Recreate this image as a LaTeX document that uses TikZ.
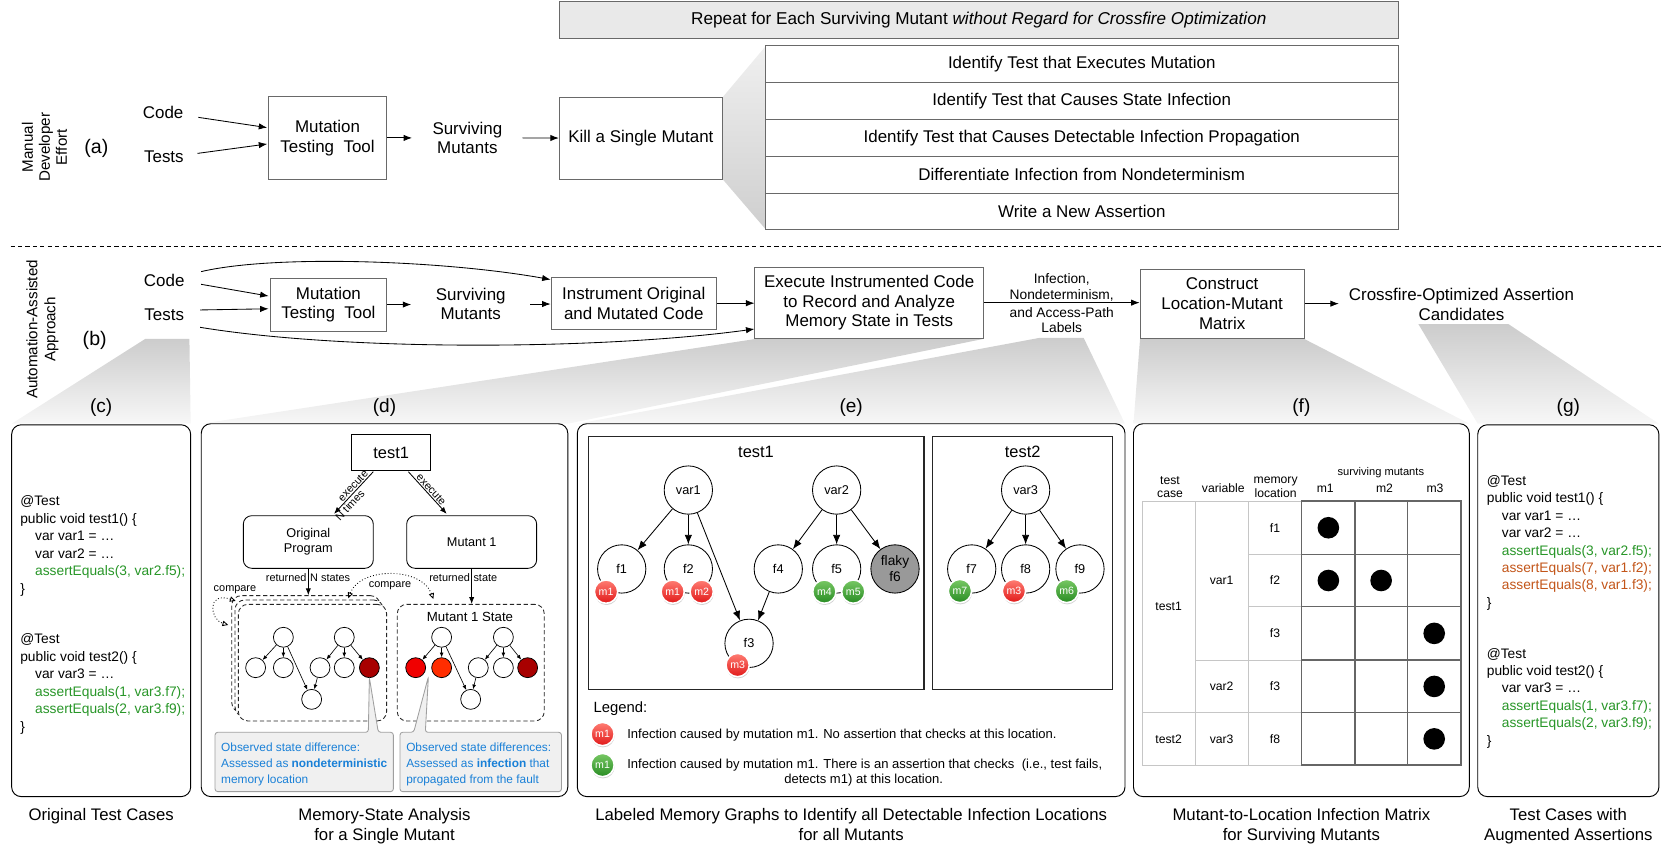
\documentclass[tikz,border=0pt]{standalone}
\usepackage{fontspec}
\setmainfont{Liberation Sans}
\usetikzlibrary{arrows.meta,shadows,calc}
\newcommand{\fz}[2]{\fontsize{#1}{#2}\selectfont}
\newcommand{\codeln}[5]{\node[code, text=#4] (#1) at (#2,#3) {#5};}
\newcommand{\callln}[4]{\node[callt] (#1) at (#2,#3) {#4};}
\definecolor{cgreen}{RGB}{40,150,40}
\definecolor{corange}{RGB}{195,85,25}
\definecolor{cblue}{RGB}{25,128,215}
\definecolor{dred}{RGB}{168,0,0}
\definecolor{bred}{RGB}{240,0,0}
\definecolor{ored}{RGB}{255,45,0}
\definecolor{edgegray}{RGB}{105,105,105}
\definecolor{rtop}{RGB}{255,125,115}
\definecolor{rbot}{RGB}{225,25,25}
\definecolor{gtop}{RGB}{120,200,100}
\definecolor{gbot}{RGB}{40,140,35}
\begin{document}
\begin{tikzpicture}[x=1pt, y=-1pt,
 lbl/.style={font=\fz{16}{18.5}, align=center, inner sep=0pt},
 pbox/.style={draw=edgegray, line width=0.8pt, fill=white, font=\fz{16}{18.5}, align=center, inner sep=0pt},
 arr/.style={-{Latex[length=8pt,width=6pt]}, line width=0.8pt},
 arrs/.style={-{Latex[length=6.5pt,width=5pt]}, line width=0.8pt},
 sarr/.style={-{Latex[length=4.5pt,width=3.6pt]}, line width=0.6pt},
 earr/.style={-{Latex[length=9pt,width=7pt]}, line width=0.8pt},
 panel/.style={draw=black, line width=0.9pt, rounded corners=9pt, fill=white},
 funnel/.style={top color=gray!40, bottom color=gray!6, draw=none},
 plabel/.style={font=\fz{18}{20}, inner sep=0pt},
 capt/.style={font=\fz{15.8}{18.5}, align=center, anchor=north, inner sep=0pt},
 code/.style={font=\fz{13}{15}, anchor=base west, inner sep=0pt},
 callt/.style={font=\fz{11.2}{13}, anchor=base west, inner sep=0pt, text=cblue},
 cout/.style={fill=gray!12, draw=gray!75, line width=0.8pt, rounded corners=2.5pt},
 dstate/.style={draw=black!85, dash pattern=on 4pt off 2.5pt, line width=0.8pt, rounded corners=9pt, fill=white, minimum width=140pt, minimum height=110.1pt, inner sep=0pt},
 sg/.style={circle, draw=black, line width=0.7pt, fill=white, minimum size=18.8pt, inner sep=0pt},
 cmp/.style={dotted, line width=0.8pt, {Triangle[open,length=5.5pt,width=5pt]}-{Triangle[open,length=5.5pt,width=5pt]}},
 enode/.style={circle, draw=black, line width=0.8pt, fill=white, minimum size=45.6pt, inner sep=0pt, font=\fz{12}{13}, align=center},
 badge/.style={circle, minimum size=22pt, inner sep=0pt, draw=white, line width=1.5pt, font=\fz{10}{11}, text=white, drop shadow={opacity=0.35, shadow xshift=0.4pt, shadow yshift=-1.6pt}},
 rbadge/.style={badge, top color=rtop, bottom color=rbot},
 gbadge/.style={badge, top color=gtop, bottom color=gbot},
 tf/.style={font=\fz{11.5}{12.5}, align=center, inner sep=0pt},
 mdot/.style={circle, fill=black, minimum size=20.4pt, inner sep=0pt},
 lgrid/.style={draw=gray!45, line width=0.8pt},
 dgrid/.style={draw=gray!80!black, line width=1.2pt},
 exl/.style={font=\fz{10.3}{11}, inner sep=1pt}
]
\useasboundingbox (0,0) rectangle (1568,800);

% ---------------- (a) ----------------
\shade[top color=gray!12, bottom color=gray!38] (682,92) -- (722.4,44) -- (722.4,216) -- (682,169) -- cycle;
\node[pbox, fill=gray!17, minimum width=792pt, minimum height=34.6pt, font=\fz{16.2}{18}] (banner) at (924,18.9) {Repeat for Each Surviving Mutant \textit{without Regard for Crossfire Optimization}};
\node[rotate=90, font=\fz{14.3}{16}, align=center, inner sep=0pt] (manual) at (42,139) {Manual\\Developer\\Effort};
\node[font=\fz{18.5}{20}, inner sep=0pt] (la) at (91,140) {(a)};
\node[lbl] (code1) at (154,106.4) {Code};
\node[lbl] (tests1) at (154.7,147.9) {Tests};
\node[pbox, minimum width=111.4pt, minimum height=77.7pt] (mtt1) at (309.2,130.2) {Mutation\\Testing\ \ Tool};
\node[lbl, minimum width=104pt] (sm1) at (441.2,130.2) {Surviving\\Mutants};
\node[pbox, minimum width=154.1pt, minimum height=77.4pt] (kill) at (605,130.3) {Kill a Single Mutant};
\foreach \txt [count=\i] in {Identify Test that Executes Mutation, Identify Test that Causes State Infection, Identify Test that Causes Detectable Infection Propagation, Differentiate Infection from Nondeterminism, Write a New Assertion}
  \node[pbox, minimum width=597.6pt, minimum height=34.8pt] (st\i) at (1021.2,{43+34.8*(\i-0.5)}) {\txt};
\draw[arr] ($(code1.east)+(14,4.4)$) -- ($(mtt1.west)+(-0.8,-9.7)$);
\draw[arr] ($(tests1.east)+(12.9,-3.1)$) -- ($(mtt1.west)+(-0.8,5.7)$);
\draw[arr] (mtt1.east) -- (sm1.west);
\draw[arr] (sm1.east) -- (kill.west);

\coordinate (dl1) at (10,233);
\coordinate (dl2) at (1568,233);
\draw[dash pattern=on 4pt off 3pt, line width=0.7pt] (dl1) -- (dl2);

% ---------------- funnels ----------------
\shade[funnel] (137,320) -- (178.8,320) -- (180,400) -- (11,400) -- cycle;
\shade[funnel] (713,320) -- (928,320) -- (536,400) -- (190,400) -- cycle;
\shade[funnel] (981,319) -- (1023,319) -- (1062,400) -- (545,400) -- cycle;
\shade[funnel] (1076.2,320) -- (1231.3,320) -- (1387,400) -- (1070,400) -- cycle;
\shade[funnel] (1339,306) -- (1424,306) -- (1566,400) -- (1395,400) -- cycle;

% ---------------- (b) ----------------
\node[rotate=90, font=\fz{14.3}{17}, align=center, inner sep=0pt] (auto) at (40,311) {Automation-Assisted\\Approach};
\node[font=\fz{18.5}{20}, inner sep=0pt] (lb) at (89.4,321) {(b)};
\node[lbl] (code2) at (155,264.3) {Code};
\node[lbl] (tests2) at (155,297.4) {Tests};
\node[pbox, minimum width=110pt, minimum height=50pt] (mtt2) at (310,287.5) {Mutation\\Testing\ \ Tool};
\node[lbl, minimum width=112pt] (sm2) at (444.4,287) {Surviving\\Mutants};
\node[pbox, minimum width=156.1pt, minimum height=48.8pt] (inst) at (598.25,286.2) {Instrument Original\\and Mutated Code};
\node[pbox, minimum width=215.9pt, minimum height=67.4pt] (exec) at (820.55,285.7) {Execute Instrumented Code\\to Record and Analyze\\Memory State in Tests};
\node[pbox, minimum width=155.1pt, minimum height=65.5pt] (cons) at (1153.75,286.65) {Construct\\Location-Mutant\\Matrix};
\node[lbl, minimum width=231pt] (cand) at (1379.6,287.6) {Crossfire-Optimized Assertion\\Candidates};
\node[font=\fz{13}{14.5}, align=center, inner sep=0pt] (lab1) at (1002.3,271.4) {Infection,\\Nondeterminism,};
\node[font=\fz{13}{14.5}, align=center, inner sep=0pt] (lab2) at (1002.3,302.2) {and Access-Path\\Labels};
\draw[arr] ($(code2.east)+(15.6,-7.9)$) .. controls (260,240) and (420,246) .. ($(inst.north west)+(0,2.5)$);
\draw[arr] ($(tests2.east)+(15.1,11.6)$) .. controls (330,332) and (570,330) .. ($(exec.west)+(0,24.9)$);
\draw[arr] ($(code2.east)+(15.6,4.1)$) -- ($(mtt2.west)+(-1,-8)$);
\draw[arr] ($(tests2.east)+(15.1,-4.8)$) -- ($(mtt2.west)+(-1,4)$);
\draw[arr] (mtt2.east) -- (mtt2.east -| sm2.west);
\draw[arr] (sm2.east) -- (sm2.east -| inst.west);
\draw[arr] (inst.east) -- (inst.east -| exec.west);
\draw[arr] (exec.east) -- (exec.east -| cons.west);
\draw[arr] (cons.east) -- (cons.east -| cand.west);

% ---------------- panels ----------------
\draw[panel] (11,401) rectangle (180,752);
\draw[panel] (190,400) rectangle (536,752);
\draw[panel] (545,400) rectangle (1062,752);
\draw[panel] (1070,400) rectangle (1387,752);
\draw[panel] (1395,401) rectangle (1566,752);
\node[plabel] (lc) at (95.5,385) {(c)};
\node[plabel] (ld) at (363,385) {(d)};
\node[plabel] (le) at (803.5,385) {(e)};
\node[plabel] (lf) at (1228.5,385) {(f)};
\node[plabel] (lg) at (1480.5,385) {(g)};
\node[capt] (capc) at (95.5,763) {Original Test Cases};
\node[capt] (capd) at (363,763) {Memory-State Analysis\\for a Single Mutant};
\node[capt] (cape) at (803.5,763) {Labeled Memory Graphs to Identify all Detectable Infection Locations\\for all Mutants};
\node[capt] (capf) at (1228.5,763) {Mutant-to-Location Infection Matrix\\for Surviving Mutants};
\node[capt] (capg) at (1480.5,763) {Test Cases with\\Augmented Assertions};

% ---------------- (c) ----------------
\codeln{c1}{19}{477.6}{black}{@Test}
\codeln{c2}{19}{494.1}{black}{public void test1() \{}
\codeln{c3}{33}{510.6}{black}{var var1 = …}
\codeln{c4}{33}{527.1}{black}{var var2 = …}
\codeln{c5}{33}{543.6}{cgreen}{assertEquals(3, var2.f5);}
\codeln{c6}{19}{560.1}{black}{\}}
\codeln{c7}{19}{607.6}{black}{@Test}
\codeln{c8}{19}{624.1}{black}{public void test2() \{}
\codeln{c9}{33}{640.6}{black}{var var3 = …}
\codeln{c10}{33}{657.1}{cgreen}{assertEquals(1, var3.f7);}
\codeln{c11}{33}{673.6}{cgreen}{assertEquals(2, var3.f9);}
\codeln{c12}{19}{690.1}{black}{\}}

% ---------------- (g) ----------------
\codeln{g1}{1403.4}{458.4}{black}{@Test}
\codeln{g2}{1403.4}{474.8}{black}{public void test1() \{}
\codeln{g3}{1417.6}{491.2}{black}{var var1 = …}
\codeln{g4}{1417.6}{507.6}{black}{var var2 = …}
\codeln{g5}{1417.6}{524.0}{cgreen}{assertEquals(3, var2.f5);}
\codeln{g6}{1417.6}{540.4}{corange}{assertEquals(7, var1.f2);}
\codeln{g7}{1417.6}{556.8}{corange}{assertEquals(8, var1.f3);}
\codeln{g8}{1403.4}{573.2}{black}{\}}
\codeln{g9}{1403.4}{621.3}{black}{@Test}
\codeln{g10}{1403.4}{637.7}{black}{public void test2() \{}
\codeln{g11}{1417.6}{654.1}{black}{var var3 = …}
\codeln{g12}{1417.6}{670.5}{cgreen}{assertEquals(1, var3.f7);}
\codeln{g13}{1417.6}{686.9}{cgreen}{assertEquals(2, var3.f9);}
\codeln{g14}{1403.4}{703.3}{black}{\}}

% ---------------- (d) ----------------
\node[font=\fz{15.5}{17}, inner sep=0pt] (dtest) at (369.25,427.3) {test1};
\draw[line width=0.9pt] ($(dtest.center)+(-37.25,-17.3)$) rectangle ($(dtest.center)+(37.25,17.3)$);
\node[draw=black, line width=0.8pt, rounded corners=8pt, minimum width=122.7pt, minimum height=49.7pt, font=\fz{12}{14}, align=center, inner sep=0pt] (dorig) at (291.05,511.65) {Original\\Program};
\node[draw=black, line width=0.8pt, rounded corners=8pt, minimum width=122.7pt, minimum height=49.7pt, font=\fz{12}{14}, align=center, inner sep=0pt] (dmut) at (445.25,511.65) {Mutant 1};
\draw[arrs] ($(dtest.center)+(-16.85,18)$) -- node[pos=0.42, sloped, above, exl] (ex1) {execute} node[pos=0.7, sloped, below, exl] (ex2) {N times} ($(dorig.north)+(24.25,-1.3)$);
\draw[arrs] ($(dtest.center)+(16.25,18)$) -- node[pos=0.5, sloped, above, exl] (ex3) {execute} ($(dmut.north)+(-23.55,-1.3)$);
\node[dstate] (st3) at (288.8,617.35) {};
\node[dstate] (st2) at (291.9,621.45) {};
\node[dstate] (sf1) at (295,625.55) {};
\node[dstate, minimum width=138.8pt] (mst) at (444.4,625.55) {};
\node[font=\fz{12.5}{14}, inner sep=0pt] (mstt) at (443.7,582.2) {Mutant 1 State};
\draw[arrs] (dorig.south) -- (dorig.south |- st3.north);
\draw[arrs] (dmut.south) -- (dmut.south |- mst.north);
\node[font=\fz{10.3}{12}, anchor=east, inner sep=0pt] (rt1) at (289.6,545.3) {returned};
\node[font=\fz{10.3}{12}, anchor=west, inner sep=0pt] (rt2) at (292.6,545.3) {N states};
\node[font=\fz{10.3}{12}, anchor=east, inner sep=0pt] (rt3) at (443.8,545.3) {returned};
\node[font=\fz{10.3}{12}, anchor=west, inner sep=0pt] (rt4) at (446.8,545.3) {state};
% small graphs
\node[sg] (ga) at (267.5,601.6) {};
\node[sg] (gb) at (241.3,630.3) {};
\node[sg] (gc) at (267.5,630.3) {};
\node[sg] (gd) at (294.2,660.2) {};
\node[sg] (ge) at (325,601.6) {};
\node[sg] (gf) at (302.1,630.3) {};
\node[sg] (gg) at (325,630.3) {};
\node[sg, fill=dred] (gh) at (348.7,630.3) {};
\foreach \a/\b in {ga/gb, ga/gc, ga/gd, ge/gf, ge/gg, ge/gh, gf/gd} \draw[sarr] (\a) -- (\b);
\node[sg] (ma) at (416.9,601.6) {};
\node[sg, fill=bred] (mb) at (392.4,630.3) {};
\node[sg, fill=ored] (mc) at (416.9,630.3) {};
\node[sg] (md) at (444.3,660.2) {};
\node[sg] (me) at (475.2,601.6) {};
\node[sg] (mf) at (451.5,630.3) {};
\node[sg] (mg) at (475.2,630.3) {};
\node[sg, fill=dred] (mh) at (498.1,630.3) {};
\foreach \a/\b in {ma/mb, ma/mc, ma/md, me/mf, me/mg, me/mh, mf/md} \draw[sarr] (\a) -- (\b);
% compare arrows
\coordinate (cpa) at (222.5,567.3);
\coordinate (cpb) at (215.5,590);
\draw[cmp] (cpa) .. controls (195,558) and (198,585) .. (cpb);
\node[font=\fz{10.3}{12}, inner sep=0pt] (cmpl) at (221.8,556.3) {compare};
\coordinate (cpc) at (328.8,564.8);
\coordinate (cpd) at (409.1,565.5);
\draw[cmp] (cpc) .. controls (340,535) and (398,535) .. (cpd);
\node[font=\fz{10.3}{12}, inner sep=0pt] (cmpt) at (368.2,553) {compare};
% callouts
\draw[cout] (203,691.3) -- (347.7,691.3) -- (348.7,639.7) -- (357.1,691.3) -- (371.3,691.3) -- (371.3,747.3) -- (203,747.3) -- cycle;
\draw[cout] (377.6,691.3) -- (390.5,691.3) -- (404.4,638.8) -- (401.5,691.3) -- (530,691.3) -- (530,747.3) -- (377.6,747.3) -- cycle;
\callln{co1}{208.6}{709.7}{Observed state difference:}
\callln{co2}{208.6}{724.5}{Assessed as \textbf{nondeterministic}}
\callln{co3}{208.6}{739.3}{memory location}
\callln{co4}{383.3}{709.7}{Observed state differences:}
\callln{co5}{383.3}{724.5}{Assessed as \textbf{infection} that}
\callln{co6}{383.3}{739.3}{propagated from the fault}

% ---------------- (e) ----------------
\node[draw=black!85, line width=1.1pt, minimum width=316.9pt, minimum height=238.5pt, inner sep=0pt] (eg1) at (713.85,531.45) {};
\node[draw=black!85, line width=1.1pt, minimum width=170pt, minimum height=238.5pt, inner sep=0pt] (eg2) at (965.4,531.45) {};
\node[font=\fz{15.5}{17}, inner sep=0pt] (eg1t) at (713.7,427) {test1};
\node[font=\fz{15.5}{17}, inner sep=0pt] (eg2t) at (965.4,427) {test2};
\node[enode] (var1) at (649.8,462.6) {var1};
\node[enode] (var2) at (789.8,462.6) {var2};
\node[enode] (f1) at (586.9,537.1) {f1};
\node[enode] (f2) at (649.8,537.1) {f2};
\node[enode] (f4) at (734.7,537.1) {f4};
\node[enode] (f5) at (789.8,537.1) {f5};
\node[enode, fill=gray!80, font=\fz{13}{15}] (f6) at (844.9,537.1) {flaky\\f6};
\node[enode] (f3) at (707.1,607.3) {f3};
\node[enode] (var3) at (968.2,462.6) {var3};
\node[enode] (f7) at (917.3,537.1) {f7};
\node[enode] (f8) at (968.2,537.1) {f8};
\node[enode] (f9) at (1019.5,537.1) {f9};
\foreach \a/\b in {var1/f1, var1/f2, var1/f3, var2/f4, var2/f5, var2/f6, f4/f3, var3/f7, var3/f8, var3/f9} \draw[earr] (\a) -- (\b);
\node[rbadge] (b1) at (572.1,558.5) {m1};
\node[rbadge] (b2) at (635,558.5) {m1};
\node[rbadge] (b3) at (662.4,558.5) {m2};
\node[gbadge] (b4) at (778.2,558.5) {m4};
\node[gbadge] (b5) at (805.5,558.5) {m5};
\node[rbadge] (b6) at (696.3,627.8) {m3};
\node[gbadge] (b7) at (906.2,557.9) {m7};
\node[rbadge] (b8) at (957.2,557.9) {m3};
\node[gbadge] (b9) at (1007,557.9) {m6};
\node[font=\fz{14}{16}, anchor=base west, inner sep=0pt] (leg) at (560.2,672.3) {Legend:};
\node[rbadge] (lb1) at (568.8,692.9) {m1};
\node[gbadge] (lb2) at (568.8,722.2) {m1};
\node[font=\fz{12.3}{14}, anchor=base west, inner sep=0pt] (lt1) at (592,697.2) {Infection caused by mutation m1. No assertion that checks at this location.};
\node[font=\fz{12.3}{14}, anchor=base west, inner sep=0pt] (lt2) at (592,725.6) {Infection caused by mutation m1. There is an assertion that checks\ \ (i.e., test fails,};
\node[font=\fz{12.3}{14}, anchor=base, inner sep=0pt] (lt3) at (815.3,740) {detects m1) at this location.};

% ---------------- (f) ----------------
\draw[lgrid] (1078.3,473) -- (1228.8,473);
\draw[lgrid] (1078.3,722.2) -- (1228.8,722.2);
\draw[lgrid] (1078.3,473) -- (1078.3,722.2);
\draw[lgrid] (1128.1,473) -- (1128.1,722.2);
\draw[lgrid] (1178.4,473) -- (1178.4,722.2);
\foreach \yy in {523.3,572.7,623,672.7} \draw[lgrid] (1178.4,\yy) -- (1228.8,\yy);
\foreach \yy in {623,672.7} \draw[lgrid] (1128.1,\yy) -- (1178.4,\yy);
\draw[lgrid] (1078.3,672.7) -- (1128.1,672.7);
\draw[dgrid] (1228.8,473) rectangle (1379.2,722.2);
\foreach \xx in {1279.1,1328.5} \draw[dgrid] (\xx,473) -- (\xx,722.2);
\foreach \yy in {523.3,572.7,623,672.7} \draw[dgrid] (1228.8,\yy) -- (1379.2,\yy);
\node[tf] (h1) at (1104.5,460) {test\\case};
\node[tf] (h2) at (1154.8,461) {variable};
\node[tf] (h3) at (1204.2,460) {memory\\location};
\node[tf, font=\fz{10.5}{12}] (h4) at (1303.5,446.2) {surviving mutants};
\node[tf] (hm1) at (1251,461) {m1};
\node[tf] (hm2) at (1307,461) {m2};
\node[tf] (hm3) at (1354.6,461) {m3};
\node[tf] (r1) at (1103.2,572.8) {test1};
\node[tf] (r2) at (1103.2,697.5) {test2};
\node[tf] (r3) at (1153.25,548) {var1};
\node[tf] (r4) at (1153.25,648) {var2};
\node[tf] (r5) at (1153.25,697.5) {var3};
\node[tf] (r6) at (1203.6,498.2) {f1};
\node[tf] (r7) at (1203.6,548) {f2};
\node[tf] (r8) at (1203.6,597.9) {f3};
\node[tf] (r9) at (1203.6,648) {f3};
\node[tf] (r10) at (1203.6,697.5) {f8};
\node[mdot] (d1) at (1254,498.2) {};
\node[mdot] (d2) at (1254,548) {};
\node[mdot] (d3) at (1303.8,548) {};
\node[mdot] (d4) at (1353.9,597.9) {};
\node[mdot] (d5) at (1353.9,648) {};
\node[mdot] (d6) at (1353.9,697.5) {};
\end{tikzpicture}
\end{document}
